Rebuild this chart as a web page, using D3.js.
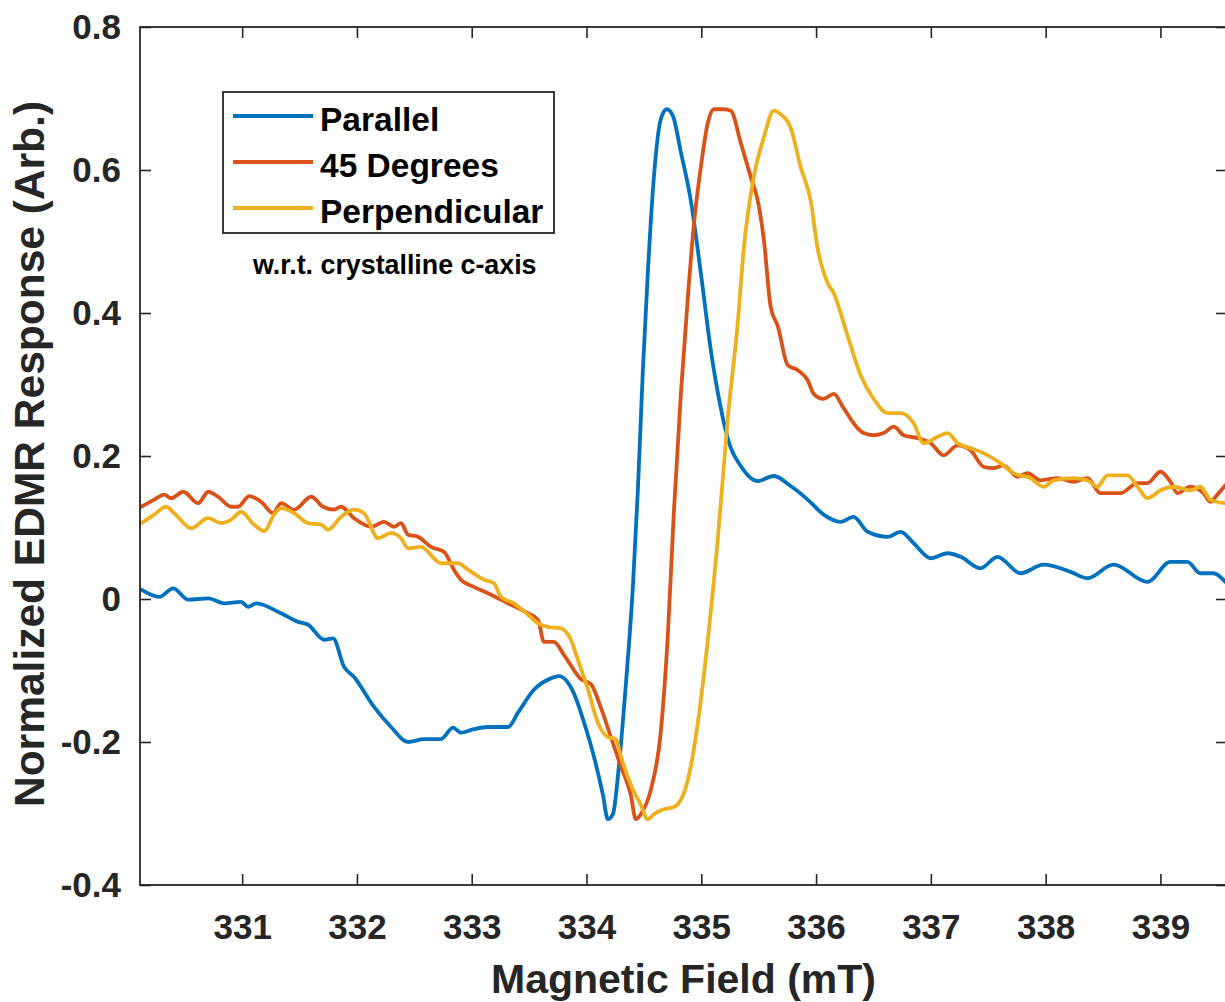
<!DOCTYPE html>
<html><head><meta charset="utf-8">
<script src="https://cdn.jsdelivr.net/npm/d3@7"></script>
<style>body{margin:0;background:#fff;overflow:hidden} svg{display:block}</style>
</head><body>
<svg id="chart" width="1225" height="1002"></svg>
<script>
const seriesNames = ["Parallel", "45 Degrees", "Perpendicular"];
const seriesColors = ["#0072BD", "#D95319", "#EDB120"];

const parallelField = [330.121,330.278,330.399,330.530,330.704,330.843,330.991,331.052,331.122,331.339,331.487,331.575,331.714,331.792,331.888,331.975,332.149,332.297,332.445,332.584,332.732,332.837,332.906,333.020,333.141,333.316,333.403,333.542,333.690,333.760,333.890,333.977,334.064,334.143,334.186,334.230,334.282,334.343,334.404,334.447,334.491,334.534,334.587,334.647,334.700,334.752,334.822,334.909,334.996,335.083,335.170,335.239,335.344,335.492,335.631,335.779,335.927,336.066,336.214,336.327,336.449,336.624,336.737,336.850,336.998,337.146,337.259,337.433,337.581,337.781,337.982,338.217,338.364,338.591,338.887,339.087,339.235,339.348,339.461,339.566];
const parallelResponse = [0.013,0.003,0.015,-0.001,0.001,-0.006,-0.004,-0.011,-0.006,-0.020,-0.032,-0.036,-0.057,-0.055,-0.095,-0.109,-0.151,-0.179,-0.200,-0.196,-0.196,-0.180,-0.187,-0.182,-0.179,-0.179,-0.159,-0.127,-0.111,-0.108,-0.132,-0.172,-0.220,-0.274,-0.308,-0.301,-0.234,-0.119,0.017,0.151,0.320,0.456,0.590,0.671,0.685,0.676,0.625,0.557,0.456,0.348,0.267,0.220,0.186,0.165,0.172,0.158,0.139,0.118,0.108,0.115,0.094,0.087,0.094,0.078,0.057,0.064,0.059,0.043,0.059,0.036,0.048,0.038,0.029,0.048,0.024,0.052,0.052,0.036,0.036,0.024];

const deg45Field = [330.121,330.234,330.321,330.382,330.486,330.617,330.704,330.791,330.904,330.965,331.061,331.165,331.270,331.339,331.453,331.601,331.705,331.801,331.862,331.975,332.123,332.236,332.323,332.384,332.445,332.532,332.645,332.758,332.845,332.906,333.020,333.168,333.316,333.490,333.577,333.629,333.716,333.803,333.951,334.038,334.125,334.212,334.299,334.386,334.429,334.473,334.560,334.647,334.708,334.760,334.822,334.883,334.935,334.996,335.057,335.109,335.196,335.257,335.344,335.431,335.492,335.544,335.605,335.666,335.753,335.840,335.927,335.979,336.066,336.153,336.240,336.362,336.414,336.501,336.588,336.676,336.763,336.885,336.998,337.111,337.233,337.346,337.459,337.546,337.633,337.755,337.842,337.955,338.103,338.242,338.364,338.478,338.652,338.800,338.887,339.000,339.087,339.148,339.261,339.374,339.435,339.496,339.566];
const deg45Response = [0.129,0.139,0.146,0.141,0.150,0.134,0.150,0.143,0.129,0.129,0.144,0.136,0.120,0.134,0.125,0.143,0.129,0.125,0.129,0.113,0.101,0.108,0.101,0.106,0.090,0.087,0.073,0.066,0.041,0.027,0.017,0.006,-0.006,-0.020,-0.029,-0.060,-0.060,-0.078,-0.112,-0.119,-0.152,-0.193,-0.234,-0.274,-0.308,-0.301,-0.267,-0.186,-0.052,0.118,0.287,0.422,0.523,0.604,0.666,0.685,0.685,0.683,0.638,0.590,0.557,0.504,0.408,0.382,0.327,0.320,0.306,0.287,0.280,0.287,0.267,0.239,0.232,0.229,0.232,0.241,0.229,0.225,0.218,0.201,0.215,0.208,0.185,0.183,0.187,0.171,0.176,0.166,0.169,0.164,0.169,0.148,0.148,0.162,0.162,0.178,0.164,0.148,0.157,0.148,0.136,0.146,0.159];

const perpField = [330.121,330.234,330.338,330.408,330.556,330.704,330.817,330.904,330.991,331.104,331.192,331.279,331.339,331.453,331.575,331.688,331.749,331.862,331.975,332.062,332.184,332.297,332.384,332.445,332.558,332.732,332.880,332.967,333.107,333.194,333.255,333.368,333.490,333.577,333.664,333.777,333.864,333.925,334.012,334.099,334.186,334.256,334.299,334.386,334.473,334.534,334.586,334.673,334.760,334.822,334.883,334.970,335.057,335.144,335.231,335.318,335.370,335.457,335.544,335.631,335.692,335.779,335.866,335.953,336.014,336.101,336.153,336.275,336.388,336.501,336.624,336.737,336.850,336.937,337.059,337.146,337.233,337.346,337.459,337.607,337.720,337.868,337.982,338.069,338.242,338.364,338.451,338.538,338.713,338.800,338.887,339.000,339.113,339.261,339.348,339.435,339.566];
const perpResponse = [0.106,0.118,0.129,0.120,0.099,0.113,0.106,0.111,0.122,0.104,0.095,0.118,0.127,0.120,0.106,0.104,0.097,0.115,0.125,0.120,0.085,0.092,0.085,0.071,0.073,0.050,0.050,0.041,0.027,0.022,0.003,-0.006,-0.022,-0.034,-0.039,-0.041,-0.057,-0.085,-0.126,-0.173,-0.193,-0.196,-0.220,-0.260,-0.288,-0.308,-0.301,-0.294,-0.291,-0.281,-0.253,-0.173,-0.057,0.084,0.253,0.387,0.490,0.590,0.645,0.683,0.678,0.659,0.604,0.557,0.490,0.442,0.428,0.368,0.313,0.280,0.260,0.260,0.246,0.218,0.227,0.232,0.218,0.211,0.204,0.190,0.176,0.169,0.157,0.166,0.169,0.166,0.157,0.173,0.173,0.157,0.141,0.152,0.157,0.152,0.157,0.139,0.134];

const xTicks = [331, 332, 333, 334, 335, 336, 337, 338, 339];
const yTicks = [-0.4, -0.2, 0, 0.2, 0.4, 0.6, 0.8];
const yTickLabels = ["-0.4", "-0.2", "0", "0.2", "0.4", "0.6", "0.8"];
const xTitle = "Magnetic Field (mT)";
const yTitle = "Normalized EDMR Response (Arb.)";
const note = "w.r.t. crystalline c-axis";

const FONT = "'Liberation Sans', Arial, Helvetica, sans-serif";
const AX = "#262626";
const plot = {left: 140, top: 27, right: 1227, bottom: 885};

const svg = d3.select("#chart");
const x = d3.scaleLinear().domain([330.11, 339.58]).range([plot.left, plot.right]);
const y = d3.scaleLinear().domain([-0.4, 0.8]).range([plot.bottom, plot.top]);

const series = [
  {name: seriesNames[0], color: seriesColors[0], pts: d3.zip(parallelField, parallelResponse)},
  {name: seriesNames[1], color: seriesColors[1], pts: d3.zip(deg45Field, deg45Response)},
  {name: seriesNames[2], color: seriesColors[2], pts: d3.zip(perpField, perpResponse)}
];

svg.append("defs").append("clipPath").attr("id", "clip")
  .append("rect").attr("x", plot.left).attr("y", plot.top)
  .attr("width", plot.right - plot.left).attr("height", plot.bottom - plot.top);

const line = d3.line().x(d => x(d[0])).y(d => y(d[1])).curve(d3.curveMonotoneX);
svg.append("g").attr("clip-path", "url(#clip)")
  .selectAll("path").data(series).join("path")
  .attr("d", d => line(d.pts))
  .attr("fill", "none").attr("stroke", d => d.color)
  .attr("stroke-width", 3.8).attr("stroke-linejoin", "round").attr("stroke-linecap", "round");

function styleAxis(g) {
  g.select(".domain").remove();
  g.selectAll(".tick line").attr("stroke", AX).attr("stroke-width", 1.6);
  g.selectAll(".tick text").attr("fill", AX).attr("font-family", FONT)
    .attr("font-weight", "bold").attr("font-size", 35);
}

svg.append("g").attr("transform", `translate(0,${plot.bottom})`)
  .call(d3.axisBottom(x).tickValues(xTicks).tickFormat(d3.format("d"))
    .tickSizeInner(-11).tickSizeOuter(0).tickPadding(29))
  .call(styleAxis);
svg.append("g").attr("transform", `translate(0,${plot.top})`)
  .call(d3.axisTop(x).tickValues(xTicks).tickFormat("").tickSizeInner(-11).tickSizeOuter(0))
  .call(styleAxis);
svg.append("g").attr("transform", `translate(${plot.left},0)`)
  .call(d3.axisLeft(y).tickValues(yTicks).tickFormat((d, i) => yTickLabels[i])
    .tickSizeInner(-11).tickSizeOuter(0).tickPadding(19))
  .call(styleAxis);
svg.append("g").attr("transform", `translate(${plot.right},0)`)
  .call(d3.axisRight(y).tickValues(yTicks).tickFormat("").tickSizeInner(-11).tickSizeOuter(0))
  .call(styleAxis);

svg.append("rect").attr("x", plot.left).attr("y", plot.top)
  .attr("width", plot.right - plot.left).attr("height", plot.bottom - plot.top)
  .attr("fill", "none").attr("stroke", AX).attr("stroke-width", 1.8);

svg.append("text").attr("x", (plot.left + plot.right) / 2).attr("y", 993)
  .attr("text-anchor", "middle").attr("font-family", FONT).attr("font-weight", "bold")
  .attr("font-size", 41).attr("fill", AX).text(xTitle);
svg.append("text").attr("transform", `translate(44,${(plot.top + plot.bottom) / 2 - 2}) rotate(-90)`)
  .attr("text-anchor", "middle").attr("font-family", FONT).attr("font-weight", "bold")
  .attr("font-size", 42.5).attr("fill", AX).text(yTitle);

// legend
const lg = svg.append("g");
lg.append("rect").attr("x", 223).attr("y", 92).attr("width", 331).attr("height", 141)
  .attr("fill", "#fff").attr("stroke", AX).attr("stroke-width", 1.8);
const rows = lg.selectAll("g.row").data(series).join("g").attr("class", "row")
  .attr("transform", (d, i) => `translate(0,${116 + i * 46})`);
rows.append("line").attr("x1", 233).attr("x2", 313).attr("y1", 0).attr("y2", 0)
  .attr("stroke", d => d.color).attr("stroke-width", 3.8);
rows.append("text").attr("x", 320).attr("y", 15).attr("font-family", FONT)
  .attr("font-weight", "bold").attr("font-size", 33.5).attr("fill", "#000").text(d => d.name);

svg.append("text").attr("x", 253).attr("y", 274).attr("font-family", FONT)
  .attr("font-weight", "bold").attr("font-size", 26.8).attr("fill", "#000").text(note);
</script>
</body></html>
